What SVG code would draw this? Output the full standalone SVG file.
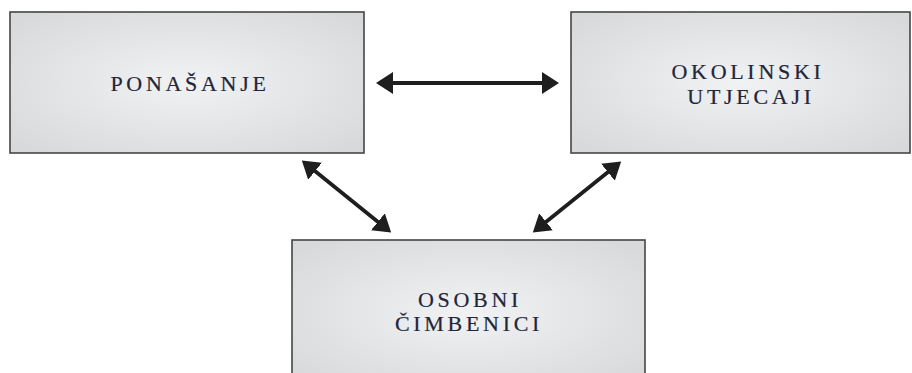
<svg xmlns="http://www.w3.org/2000/svg" width="912" height="373" viewBox="0 0 912 373">
  <style>
    .box { stroke: #454545; stroke-width: 1.6; }
    .lbl { font-family: "Liberation Serif", "DejaVu Serif", serif; font-size: 22px; letter-spacing: 3.7px; fill: #23253a; stroke: #23253a; stroke-width: 0.2; text-anchor: middle; }
    .conn { stroke: #1e1e1e; stroke-width: 3.8; fill: none; marker-start: url(#head); marker-end: url(#head); }
  </style>
  <defs>
    <radialGradient id="fill" cx="50%" cy="50%" r="65%">
      <stop offset="0" stop-color="#f1f2f3"/>
      <stop offset="1" stop-color="#d8d9db"/>
    </radialGradient>
    <marker id="head" viewBox="0 0 17 22" refX="1" refY="11" markerWidth="17" markerHeight="22" markerUnits="userSpaceOnUse" orient="auto-start-reverse">
      <path d="M0,0 L17,11 L0,22 z" fill="#1e1e1e"/>
    </marker>
  </defs>
  <rect width="912" height="373" fill="#ffffff"/>
  <g id="ponasanje">
    <rect class="box" x="10" y="12" width="354" height="141" fill="url(#fill)"/>
    <text class="lbl" x="190" y="91">PONAŠANJE</text>
  </g>
  <g id="okolinski">
    <rect class="box" x="571" y="12" width="339" height="141" fill="url(#fill)"/>
    <text class="lbl" x="748" y="79">OKOLINSKI</text>
    <text class="lbl" x="751" y="104">UTJECAJI</text>
  </g>
  <g id="osobni">
    <rect class="box" x="292" y="240" width="353" height="145" fill="url(#fill)"/>
    <text class="lbl" x="470" y="307">OSOBNI</text>
    <text class="lbl" x="469" y="331">ČIMBENICI</text>
  </g>
  <g id="connectors">
    <path class="conn" d="M392,83 L543,83"/>
    <path class="conn" d="M314.3,170.6 L378.7,222.4"/>
    <path class="conn" d="M608.7,171.6 L545.3,222.4"/>
  </g>
</svg>
